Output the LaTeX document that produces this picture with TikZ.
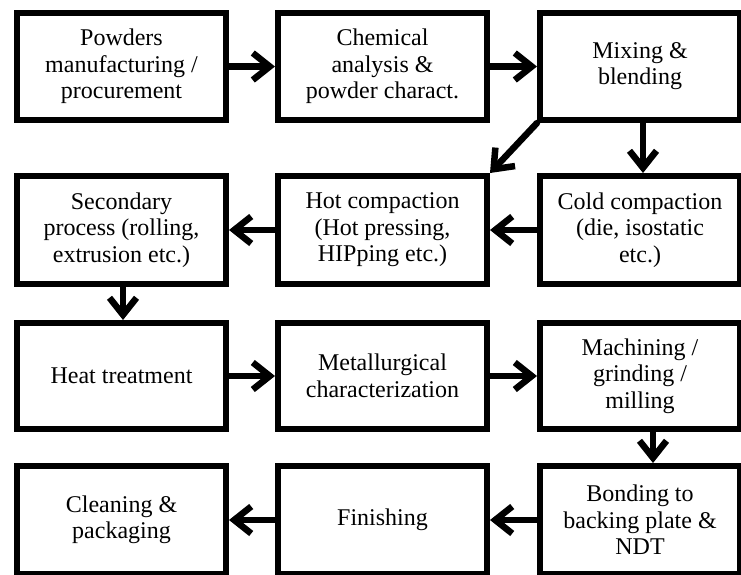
\documentclass[tikz,border=0pt]{standalone}
\usepackage{fontspec}
\setmainfont{Liberation Serif}
\usetikzlibrary{arrows.meta}
\begin{document}
\begin{tikzpicture}[x=1pt,y=-1pt,
  box/.style={draw=black, line width=6pt, rectangle, inner sep=0pt, align=center,
    font=\fontsize{24}{26.5}\selectfont},
  arr/.style={line width=6.5pt, -{Straight Barb[length=17pt,width=27pt,line width=6.5pt]}, line cap=round}
]
\useasboundingbox (0,0) rectangle (741,574);
\fill[white] (0,0) rectangle (741,574);
% row 1
\node[box, minimum width=209pt, minimum height=107pt] (pow) at (121.5,66.5) {Powders\\manufacturing /\\procurement};
\node[box, minimum width=209pt, minimum height=107pt] (chem) at (382.5,66.5) {Chemical\\analysis \&\\powder charact.};
\node[box, minimum width=200pt, minimum height=107pt] (mix) at (640,66.5) {\raisebox{-5pt}{\shortstack{Mixing \&\\[1pt]blending}}};
% row 2
\node[box, minimum width=209pt, minimum height=108pt] (sec) at (121.5,230) {Secondary\\process (rolling,\\extrusion etc.)};
\node[box, minimum width=209pt, minimum height=108pt] (hot) at (382.5,230) {Hot compaction\\(Hot pressing,\\HIPping etc.)};
\node[box, minimum width=200pt, minimum height=108pt] (cold) at (640,230) {Cold compaction\\(die, isostatic\\etc.)};
% row 3
\node[box, minimum width=209pt, minimum height=106pt] (heat) at (121.5,376) {Heat treatment};
\node[box, minimum width=209pt, minimum height=106pt] (met) at (382.5,376) {Metallurgical\\characterization};
\node[box, minimum width=200pt, minimum height=106pt] (mach) at (640,376) {Machining /\\grinding /\\milling};
% row 4
\node[box, minimum width=209pt, minimum height=108pt] (clean) at (121.5,520) {Cleaning \&\\packaging};
\node[box, minimum width=209pt, minimum height=108pt] (fin) at (382.5,520) {Finishing};
\node[box, minimum width=200pt, minimum height=108pt] (bond) at (640,520) {Bonding to\\backing plate \&\\NDT};
% arrows
\draw[arr] (pow.east) -- (chem.west);
\draw[arr] (chem.east) -- (mix.west);
\draw[arr] ([xshift=3pt]mix.south) -- ([xshift=3pt]cold.north);
\draw[arr] (mix.south west) -- (hot.north east);
\draw[arr] (cold.west) -- (hot.east);
\draw[arr] (hot.west) -- (sec.east);
\draw[arr] ([xshift=1.5pt]sec.south) -- ([xshift=1.5pt]heat.north);
\draw[arr] (heat.east) -- (met.west);
\draw[arr] (met.east) -- (mach.west);
\draw[arr] ([xshift=13pt]mach.south) -- ([xshift=13pt]bond.north);
\draw[arr] (bond.west) -- (fin.east);
\draw[arr] (fin.west) -- (clean.east);
\end{tikzpicture}
\end{document}
